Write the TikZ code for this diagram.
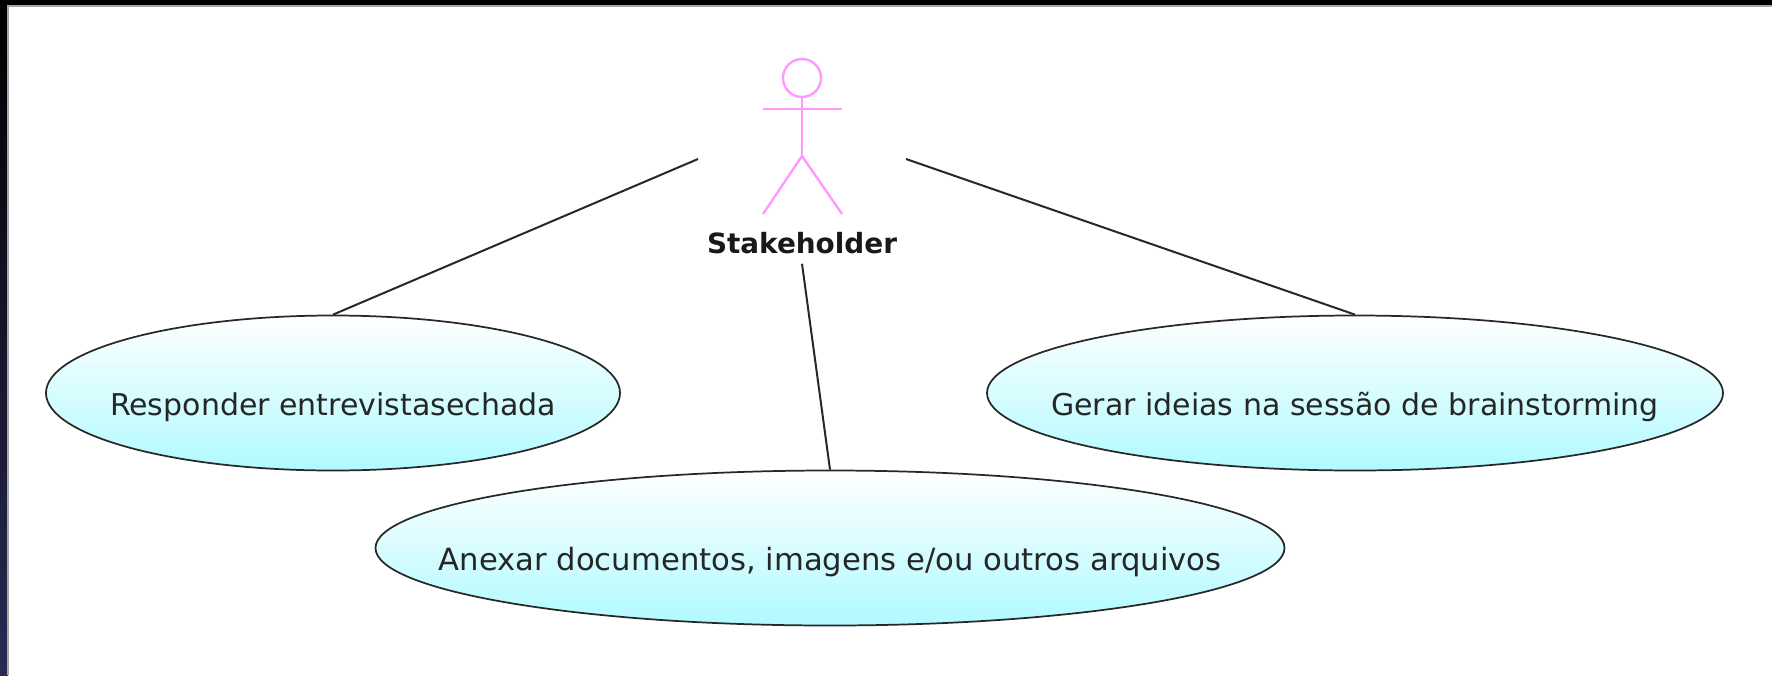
\documentclass[tikz,border=0pt]{standalone}
\usepackage{fontspec}
\setmainfont{DejaVu Sans}
\usetikzlibrary{shapes.geometric,positioning}
\definecolor{ucpink}{RGB}{255,153,255}
\definecolor{uccyan}{RGB}{176,250,255}
\definecolor{ucline}{RGB}{40,40,40}
\definecolor{ucframe}{RGB}{42,42,84}
\newdimen\ucpx
\ucpx=0.75pt
\newcommand{\uctext}[1]{\makebox[0pt]{\raisebox{-22\ucpx}[0pt][0pt]{#1}}}
\tikzstyle{usecase} = [ellipse, draw=ucline, line width=1.3pt, top color=white, bottom color=uccyan, minimum height=155\ucpx, inner sep=0pt, font=\fontsize{22.5}{26}\selectfont, text=black!85]
\tikzstyle{assoc} = [draw=ucline, line width=1.5pt]
\tikzstyle{stick} = [draw=ucpink, line width=1.8pt]
\begin{document}
\begin{tikzpicture}[x=0.75pt, y=-0.75pt]
\useasboundingbox (0,0) rectangle (1772,675);
% Window edge
\fill[white] (0,0) rectangle (1772,675);
\shade[top color=black, bottom color=ucframe] (0,0) rectangle (8,675);
\fill[black] (0,0) rectangle (1772,6);
\draw[gray!70, line width=0.8pt] (8,675) -- (8,6) -- (1772,6);
% Actor
\draw[stick] (802,78) circle (19);
\draw[stick] (802,97) -- (802,156);
\draw[stick] (763,109) -- (842,109);
\draw[stick] (763,214) -- (802,156) -- (842,214);
\node (stakeholder) at (802,243) [font=\fontsize{20.9}{24}\selectfont\bfseries, minimum height=41\ucpx, inner sep=0pt, text=black!90] {Stakeholder};
\coordinate (actorleft) at (698,159);
\coordinate (actorright) at (906,159);
% Use cases
\node (responder) at (333,393) [usecase, minimum width=574\ucpx] {\uctext{Responder entrevistasechada}};
\node (anexar) at (830,548) [usecase, minimum width=909\ucpx, font=\fontsize{23}{26}\selectfont] {\uctext{Anexar documentos, imagens e/ou outros arquivos}};
\node (gerar) at (1355,393) [usecase, minimum width=736\ucpx] {\uctext{Gerar ideias na sessão de brainstorming}};

\draw[assoc] (actorleft) -- (responder.north);
\draw[assoc] (actorright) -- (gerar.north);
\draw[assoc] (stakeholder.south) -- (anexar.north);
\end{tikzpicture}
\end{document}
